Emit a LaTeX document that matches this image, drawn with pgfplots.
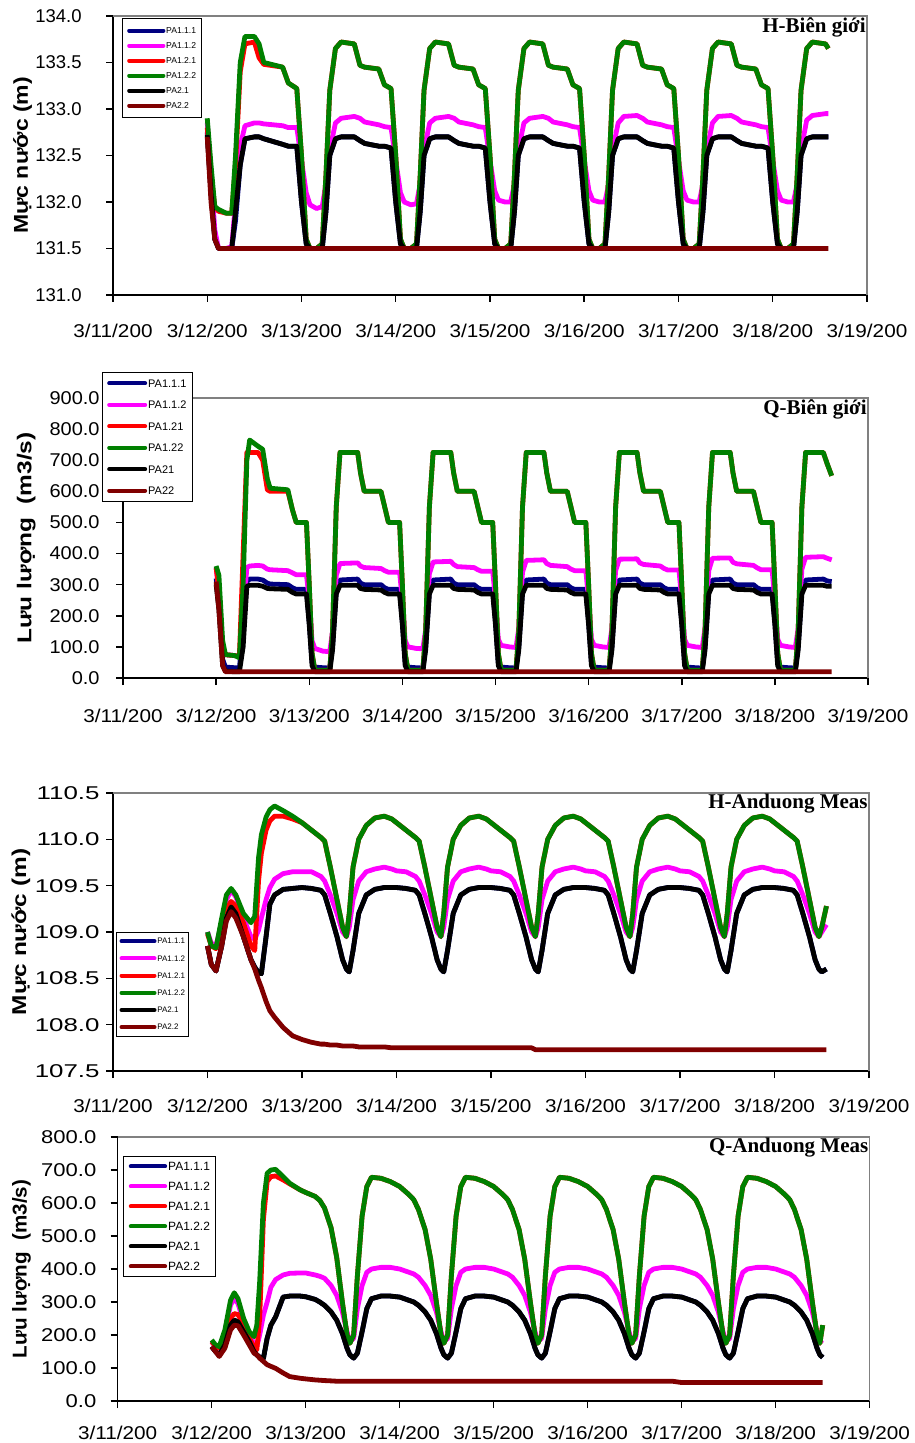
\documentclass[border=0pt]{standalone}
\usepackage{pgfplots}
\pgfplotsset{compat=1.18}
\usepackage{pgfplotstable}
\usepackage{fontspec}
\setmainfont{Liberation Sans}
\newfontfamily\titlefont{Liberation Serif}
\definecolor{cnavy}{RGB}{0,0,128}
\definecolor{cmag}{RGB}{255,0,255}
\definecolor{cred}{RGB}{255,0,0}
\definecolor{cgreen}{RGB}{0,128,0}
\definecolor{cdred}{RGB}{128,0,0}

\newcommand{\xl}[1]{\scalebox{1.12}[1]{#1}}

% columns: a=PA1.1.1 b=PA1.1.2 c=PA1.2.1 d=PA1.2.2 e=PA2.1 f=PA2.2
\pgfplotstableread{
x a b c d e f
1.00 132.75 132.85 132.80 132.90 132.72 132.70
1.04 132.10 132.30 132.30 132.40 132.10 132.00
1.08 131.60 131.70 131.95 131.95 131.60 131.60
1.12 131.50 131.50 131.90 131.92 131.50 131.50
1.20 131.50 131.50 131.88 131.88 131.50 131.50
1.26 131.50 131.52 131.88 131.88 131.50 131.50
1.30 131.80 132.00 132.40 132.50 131.90 131.50
1.35 132.40 132.60 133.40 133.50 132.40 131.50
1.40 132.68 132.82 133.70 133.78 132.68 131.50
1.50 132.70 132.85 133.72 133.78 132.70 131.50
1.55 132.70 132.85 133.55 133.70 132.70 131.50
1.60 132.68 132.84 133.48 133.50 132.68 131.50
1.80 132.62 132.82 133.45 133.45 132.62 131.50
1.86 132.60 132.80 133.28 133.28 132.60 131.50
1.95 132.60 132.80 133.22 133.22 132.60 131.50
2.00 132.00 132.45 132.50 132.50 132.00 131.50
2.05 131.55 132.10 131.60 131.60 131.55 131.50
2.09 131.50 131.97 131.50 131.50 131.50 131.50
2.16 131.50 131.93 131.50 131.50 131.50 131.50
2.22 131.50 131.95 131.55 131.55 131.50 131.50
2.26 131.90 132.20 132.30 132.30 131.90 131.50
2.30 132.50 132.55 133.20 133.20 132.50 131.50
2.36 132.68 132.85 133.65 133.65 132.68 131.50
2.42 132.70 132.90 133.72 133.72 132.70 131.50
2.56 132.70 132.92 133.70 133.70 132.70 131.50
2.62 132.66 132.90 133.47 133.47 132.66 131.50
2.67 132.63 132.86 133.45 133.45 132.63 131.50
2.82 132.60 132.83 133.43 133.43 132.60 131.50
2.88 132.60 132.81 133.26 133.26 132.60 131.50
2.95 132.58 132.80 133.22 133.22 132.58 131.50
3.00 132.00 132.45 132.50 132.50 132.00 131.50
3.05 131.55 132.10 131.60 131.60 131.55 131.50
3.09 131.50 132.00 131.50 131.50 131.50 131.50
3.16 131.50 131.97 131.50 131.50 131.50 131.50
3.22 131.50 131.98 131.55 131.55 131.50 131.50
3.26 131.90 132.20 132.30 132.30 131.90 131.50
3.30 132.50 132.55 133.20 133.20 132.50 131.50
3.36 132.68 132.85 133.65 133.65 132.68 131.50
3.42 132.70 132.90 133.72 133.72 132.70 131.50
3.56 132.70 132.92 133.70 133.70 132.70 131.50
3.62 132.66 132.90 133.47 133.47 132.66 131.50
3.67 132.63 132.86 133.45 133.45 132.63 131.50
3.82 132.60 132.83 133.43 133.43 132.60 131.50
3.88 132.60 132.81 133.26 133.26 132.60 131.50
3.95 132.58 132.80 133.22 133.22 132.58 131.50
4.00 132.00 132.45 132.50 132.50 132.00 131.50
4.05 131.55 132.12 131.60 131.60 131.55 131.50
4.09 131.50 132.02 131.50 131.50 131.50 131.50
4.16 131.50 132.00 131.50 131.50 131.50 131.50
4.22 131.50 132.00 131.55 131.55 131.50 131.50
4.26 131.90 132.20 132.30 132.30 131.90 131.50
4.30 132.50 132.55 133.20 133.20 132.50 131.50
4.36 132.68 132.85 133.65 133.65 132.68 131.50
4.42 132.70 132.90 133.72 133.72 132.70 131.50
4.56 132.70 132.92 133.70 133.70 132.70 131.50
4.62 132.66 132.90 133.47 133.47 132.66 131.50
4.67 132.63 132.86 133.45 133.45 132.63 131.50
4.82 132.60 132.83 133.43 133.43 132.60 131.50
4.88 132.60 132.81 133.26 133.26 132.60 131.50
4.95 132.58 132.80 133.22 133.22 132.58 131.50
5.00 132.00 132.45 132.50 132.50 132.00 131.50
5.05 131.55 132.12 131.60 131.60 131.55 131.50
5.09 131.50 132.02 131.50 131.50 131.50 131.50
5.16 131.50 132.00 131.50 131.50 131.50 131.50
5.22 131.50 132.00 131.55 131.55 131.50 131.50
5.26 131.90 132.20 132.30 132.30 131.90 131.50
5.30 132.50 132.55 133.20 133.20 132.50 131.50
5.36 132.68 132.85 133.65 133.65 132.68 131.50
5.42 132.70 132.92 133.72 133.72 132.70 131.50
5.56 132.70 132.93 133.70 133.70 132.70 131.50
5.62 132.66 132.90 133.47 133.47 132.66 131.50
5.67 132.63 132.86 133.45 133.45 132.63 131.50
5.82 132.60 132.83 133.43 133.43 132.60 131.50
5.88 132.60 132.81 133.26 133.26 132.60 131.50
5.95 132.58 132.80 133.22 133.22 132.58 131.50
6.00 132.00 132.45 132.50 132.50 132.00 131.50
6.05 131.55 132.12 131.60 131.60 131.55 131.50
6.09 131.50 132.02 131.50 131.50 131.50 131.50
6.16 131.50 132.00 131.50 131.50 131.50 131.50
6.22 131.50 132.00 131.55 131.55 131.50 131.50
6.26 131.90 132.20 132.30 132.30 131.90 131.50
6.30 132.50 132.55 133.20 133.20 132.50 131.50
6.36 132.68 132.85 133.65 133.65 132.68 131.50
6.42 132.70 132.92 133.72 133.72 132.70 131.50
6.56 132.70 132.93 133.70 133.70 132.70 131.50
6.62 132.66 132.90 133.47 133.47 132.66 131.50
6.67 132.63 132.86 133.45 133.45 132.63 131.50
6.82 132.60 132.83 133.43 133.43 132.60 131.50
6.88 132.60 132.81 133.26 133.26 132.60 131.50
6.95 132.58 132.80 133.22 133.22 132.58 131.50
7.00 132.00 132.45 132.50 132.50 132.00 131.50
7.05 131.55 132.12 131.60 131.60 131.55 131.50
7.09 131.50 132.02 131.50 131.50 131.50 131.50
7.16 131.50 132.00 131.50 131.50 131.50 131.50
7.22 131.50 132.00 131.55 131.55 131.50 131.50
7.26 131.90 132.20 132.30 132.30 131.90 131.50
7.30 132.50 132.55 133.20 133.20 132.50 131.50
7.36 132.68 132.88 133.65 133.65 132.68 131.50
7.42 132.70 132.93 133.72 133.72 132.70 131.50
7.56 132.70 132.95 133.70 133.70 132.70 131.50
7.59 132.70 132.95 133.65 133.65 132.70 131.50
}\tA

\pgfplotstableread{
x a b c d e f
1.00 320 355 355 360 300 310
1.03 250 280 280 330 220 220
1.07 60 90 80 120 40 40
1.10 35 75 75 75 22 20
1.20 33 72 72 72 20 20
1.25 33 70 70 65 20 20
1.29 150 200 400 300 100 20
1.33 310 355 725 700 295 20
1.36 318 360 725 765 298 20
1.45 318 362 725 745 298 20
1.50 315 360 700 735 295 20
1.55 305 350 605 640 288 20
1.58 302 348 600 610 287 20
1.77 300 345 600 605 285 20
1.82 290 338 540 540 275 20
1.86 285 332 500 500 270 20
1.97 285 332 500 500 270 20
2.00 180 250 300 300 170 20
2.03 50 120 80 80 40 20
2.06 35 95 25 25 20 20
2.15 33 86 25 25 20 20
2.22 32 85 25 25 20 20
2.25 100 150 150 150 90 20
2.29 280 330 550 550 270 20
2.33 315 368 725 725 298 20
2.52 318 370 725 725 298 20
2.55 305 360 660 660 288 20
2.59 300 355 600 600 285 20
2.77 300 352 600 600 283 20
2.81 290 345 550 550 275 20
2.85 285 340 500 500 270 20
2.97 285 340 500 500 270 20
3.00 180 250 300 300 170 20
3.03 50 120 80 80 40 20
3.06 35 100 25 25 20 20
3.15 33 95 25 25 20 20
3.22 32 94 25 25 20 20
3.25 100 155 150 150 90 20
3.29 280 335 550 550 270 20
3.33 315 373 725 725 298 20
3.52 318 375 725 725 298 20
3.55 305 365 660 660 288 20
3.59 300 358 600 600 285 20
3.77 300 355 600 600 283 20
3.81 290 348 550 550 275 20
3.85 285 343 500 500 270 20
3.97 285 343 500 500 270 20
4.00 180 250 300 300 170 20
4.03 50 125 80 80 40 20
4.06 35 105 25 25 20 20
4.15 33 100 25 25 20 20
4.22 32 98 25 25 20 20
4.25 100 160 150 150 90 20
4.29 280 340 550 550 270 20
4.33 315 378 725 725 298 20
4.52 318 380 725 725 298 20
4.55 305 368 660 660 288 20
4.59 300 362 600 600 285 20
4.77 300 358 600 600 283 20
4.81 290 350 550 550 275 20
4.85 285 345 500 500 270 20
4.97 285 345 500 500 270 20
5.00 180 250 300 300 170 20
5.03 50 125 80 80 40 20
5.06 35 105 25 25 20 20
5.15 33 100 25 25 20 20
5.22 32 98 25 25 20 20
5.25 100 160 150 150 90 20
5.29 280 345 550 550 270 20
5.33 315 382 725 725 298 20
5.52 318 383 725 725 298 20
5.55 305 370 660 660 288 20
5.59 300 365 600 600 285 20
5.77 300 360 600 600 283 20
5.81 290 352 550 550 275 20
5.85 285 347 500 500 270 20
5.97 285 347 500 500 270 20
6.00 180 250 300 300 170 20
6.03 50 125 80 80 40 20
6.06 35 105 25 25 20 20
6.15 33 100 25 25 20 20
6.22 32 98 25 25 20 20
6.25 100 160 150 150 90 20
6.29 280 345 550 550 270 20
6.33 315 385 725 725 298 20
6.52 318 386 725 725 298 20
6.55 305 372 660 660 288 20
6.59 300 367 600 600 285 20
6.77 300 362 600 600 283 20
6.81 290 354 550 550 275 20
6.85 285 348 500 500 270 20
6.97 285 348 500 500 270 20
7.00 180 250 300 300 170 20
7.03 50 125 80 80 40 20
7.06 35 105 25 25 20 20
7.15 33 100 25 25 20 20
7.22 32 98 25 25 20 20
7.25 100 160 150 150 90 20
7.29 280 350 550 550 270 20
7.33 315 388 725 725 298 20
7.52 318 390 725 725 298 20
7.56 312 385 690 690 295 20
7.61 310 380 650 650 295 20
}\tB

\pgfplotstableread{
x a b c d e f
1.00 108.85 109.00 108.98 109.00 108.85 108.85
1.04 108.65 108.88 108.85 108.85 108.65 108.65
1.09 108.58 108.85 108.82 108.83 108.58 108.58
1.15 108.85 109.10 109.05 109.15 108.85 108.85
1.20 109.15 109.35 109.25 109.40 109.15 109.12
1.25 109.27 109.45 109.33 109.47 109.27 109.22
1.30 109.20 109.38 109.28 109.40 109.20 109.15
1.38 108.95 109.15 109.10 109.20 108.95 108.95
1.46 108.70 108.95 108.85 109.10 108.70 108.70
1.50 108.62 108.92 108.80 109.17 108.62 108.60
1.54 108.56 109.02 109.55 109.80 108.56 108.48
1.57 108.55 109.15 109.85 110.05 108.55 108.40
1.62 108.95 109.35 110.10 110.24 108.95 108.25
1.66 109.30 109.48 110.20 110.32 109.30 108.15
1.71 109.40 109.57 110.25 110.36 109.40 108.08
1.80 109.46 109.63 110.25 110.31 109.46 107.97
1.90 109.47 109.65 110.22 110.25 109.47 107.88
2.00 109.48 109.65 110.18 110.18 109.48 107.84
2.10 109.47 109.65 110.10 110.10 109.47 107.81
2.20 109.45 109.60 110.02 110.02 109.45 107.79
2.24 109.40 109.55 109.98 109.98 109.40 107.79
2.30 109.20 109.40 109.70 109.70 109.20 107.78
2.37 108.95 109.20 109.35 109.35 108.95 107.78
2.43 108.70 109.00 109.05 109.05 108.70 107.77
2.47 108.60 108.95 108.95 108.95 108.60 107.77
2.50 108.57 109.05 109.20 109.20 108.57 107.77
2.54 108.80 109.35 109.70 109.70 108.80 107.77
2.60 109.20 109.55 110.00 110.00 109.20 107.76
2.68 109.40 109.65 110.15 110.15 109.40 107.76
2.77 109.46 109.68 110.23 110.23 109.46 107.76
2.87 109.48 109.70 110.25 110.25 109.48 107.76
2.95 109.48 109.68 110.22 110.22 109.48 107.75
3.00 109.48 109.66 110.18 110.18 109.48 107.75
3.10 109.47 109.65 110.10 110.10 109.47 107.75
3.20 109.45 109.60 110.02 110.02 109.45 107.75
3.24 109.40 109.55 109.98 109.98 109.40 107.75
3.30 109.20 109.40 109.70 109.70 109.20 107.75
3.37 108.95 109.20 109.35 109.35 108.95 107.75
3.43 108.70 109.00 109.05 109.05 108.70 107.75
3.47 108.60 108.95 108.95 108.95 108.60 107.75
3.50 108.57 109.05 109.20 109.20 108.57 107.75
3.54 108.80 109.35 109.70 109.70 108.80 107.75
3.60 109.20 109.55 110.00 110.00 109.20 107.75
3.68 109.40 109.65 110.15 110.15 109.40 107.75
3.77 109.46 109.68 110.23 110.23 109.46 107.75
3.87 109.48 109.70 110.25 110.25 109.48 107.75
3.95 109.48 109.68 110.22 110.22 109.48 107.75
4.00 109.48 109.66 110.18 110.18 109.48 107.75
4.10 109.47 109.65 110.10 110.10 109.47 107.75
4.20 109.45 109.60 110.02 110.02 109.45 107.75
4.24 109.40 109.55 109.98 109.98 109.40 107.75
4.30 109.20 109.40 109.70 109.70 109.20 107.75
4.37 108.95 109.20 109.35 109.35 108.95 107.75
4.43 108.70 109.00 109.05 109.05 108.70 107.75
4.47 108.60 108.95 108.95 108.95 108.60 107.73
4.50 108.57 109.05 109.20 109.20 108.57 107.73
4.54 108.80 109.35 109.70 109.70 108.80 107.73
4.60 109.20 109.55 110.00 110.00 109.20 107.73
4.68 109.40 109.65 110.15 110.15 109.40 107.73
4.77 109.46 109.68 110.23 110.23 109.46 107.73
4.87 109.48 109.70 110.25 110.25 109.48 107.73
4.95 109.48 109.68 110.22 110.22 109.48 107.73
5.00 109.48 109.66 110.18 110.18 109.48 107.73
5.10 109.47 109.65 110.10 110.10 109.47 107.73
5.20 109.45 109.60 110.02 110.02 109.45 107.73
5.24 109.40 109.55 109.98 109.98 109.40 107.73
5.30 109.20 109.40 109.70 109.70 109.20 107.73
5.37 108.95 109.20 109.35 109.35 108.95 107.73
5.43 108.70 109.00 109.05 109.05 108.70 107.73
5.47 108.60 108.95 108.95 108.95 108.60 107.73
5.50 108.57 109.05 109.20 109.20 108.57 107.73
5.54 108.80 109.35 109.70 109.70 108.80 107.73
5.60 109.20 109.55 110.00 110.00 109.20 107.73
5.68 109.40 109.65 110.15 110.15 109.40 107.73
5.77 109.46 109.68 110.23 110.23 109.46 107.73
5.87 109.48 109.70 110.25 110.25 109.48 107.73
5.95 109.48 109.68 110.22 110.22 109.48 107.73
6.00 109.48 109.66 110.18 110.18 109.48 107.73
6.10 109.47 109.65 110.10 110.10 109.47 107.73
6.20 109.45 109.60 110.02 110.02 109.45 107.73
6.24 109.40 109.55 109.98 109.98 109.40 107.73
6.30 109.20 109.40 109.70 109.70 109.20 107.73
6.37 108.95 109.20 109.35 109.35 108.95 107.73
6.43 108.70 109.00 109.05 109.05 108.70 107.73
6.47 108.60 108.95 108.95 108.95 108.60 107.73
6.50 108.57 109.05 109.20 109.20 108.57 107.73
6.54 108.80 109.35 109.70 109.70 108.80 107.73
6.60 109.20 109.55 110.00 110.00 109.20 107.73
6.68 109.40 109.65 110.15 110.15 109.40 107.73
6.77 109.46 109.68 110.23 110.23 109.46 107.73
6.87 109.48 109.70 110.25 110.25 109.48 107.73
6.95 109.48 109.68 110.22 110.22 109.48 107.73
7.00 109.48 109.66 110.18 110.18 109.48 107.73
7.10 109.47 109.65 110.10 110.10 109.47 107.73
7.20 109.45 109.60 110.02 110.02 109.45 107.73
7.24 109.40 109.55 109.98 109.98 109.40 107.73
7.30 109.20 109.40 109.70 109.70 109.20 107.73
7.37 108.95 109.20 109.35 109.35 108.95 107.73
7.43 108.70 109.00 109.05 109.05 108.70 107.73
7.47 108.60 108.95 108.95 108.95 108.60 107.73
7.50 108.57 109.00 109.05 109.05 108.57 107.73
7.55 108.60 109.08 109.28 109.28 108.60 107.73
}\tC

\pgfplotstableread{
x a b c d e f
1.00 165 180 180 185 165 165
1.04 150 165 165 170 150 150
1.08 140 160 160 165 140 135
1.14 170 210 190 215 170 160
1.20 230 290 250 305 230 215
1.24 245 312 265 328 245 230
1.28 240 295 262 310 240 228
1.34 210 240 230 250 210 200
1.40 180 200 190 210 180 170
1.45 150 175 165 195 150 145
1.48 140 165 155 230 140 140
1.51 133 200 250 360 133 130
1.55 129 260 550 600 129 120
1.59 190 300 665 690 190 110
1.63 230 345 680 700 230 105
1.68 255 368 682 702 255 99
1.76 315 382 670 680 315 85
1.83 318 387 658 660 318 74
1.94 318 388 640 640 318 69
2.00 316 388 632 632 316 67
2.10 308 382 620 620 308 64
2.15 300 378 608 608 300 63
2.20 290 372 585 585 290 62
2.27 270 350 525 525 270 61
2.33 245 320 435 435 245 60
2.39 205 270 300 300 205 60
2.44 160 210 200 200 160 60
2.47 140 180 175 175 140 60
2.51 130 190 200 200 130 60
2.55 145 280 380 380 145 60
2.60 210 350 560 560 210 60
2.65 280 390 650 650 280 60
2.70 310 400 678 678 310 60
2.80 318 405 675 675 318 60
2.90 318 405 665 665 318 60
3.00 315 400 650 650 315 60
3.10 305 390 625 625 305 60
3.15 300 385 610 610 300 60
3.20 290 375 580 580 290 60
3.27 270 350 520 520 270 60
3.33 245 320 430 430 245 60
3.39 205 270 300 300 205 60
3.44 160 210 200 200 160 60
3.47 140 180 175 175 140 60
3.51 130 190 200 200 130 60
3.55 145 280 380 380 145 60
3.60 210 350 560 560 210 60
3.65 280 390 650 650 280 60
3.70 310 400 678 678 310 60
3.80 318 405 675 675 318 60
3.90 318 405 665 665 318 60
4.00 315 400 650 650 315 60
4.10 305 390 625 625 305 60
4.15 300 385 610 610 300 60
4.20 290 375 580 580 290 60
4.27 270 350 520 520 270 60
4.33 245 320 430 430 245 60
4.39 205 270 300 300 205 60
4.44 160 210 200 200 160 60
4.47 140 180 175 175 140 60
4.51 130 190 200 200 130 60
4.55 145 280 380 380 145 60
4.60 210 350 560 560 210 60
4.65 280 390 650 650 280 60
4.70 310 400 678 678 310 60
4.80 318 405 675 675 318 60
4.90 318 405 665 665 318 60
5.00 315 400 650 650 315 60
5.10 305 390 625 625 305 60
5.15 300 385 610 610 300 60
5.20 290 375 580 580 290 60
5.27 270 350 520 520 270 60
5.33 245 320 430 430 245 60
5.39 205 270 300 300 205 60
5.44 160 210 200 200 160 60
5.47 140 180 175 175 140 60
5.51 130 190 200 200 130 60
5.55 145 280 380 380 145 60
5.60 210 350 560 560 210 60
5.65 280 390 650 650 280 60
5.70 310 400 678 678 310 60
5.80 318 405 675 675 318 60
5.90 318 405 665 665 318 60
6.00 315 400 650 650 315 56
6.10 305 390 625 625 305 56
6.15 300 385 610 610 300 56
6.20 290 375 580 580 290 56
6.27 270 350 520 520 270 56
6.33 245 320 430 430 245 56
6.39 205 270 300 300 205 56
6.44 160 210 200 200 160 56
6.47 140 180 175 175 140 56
6.51 130 190 200 200 130 56
6.55 145 280 380 380 145 56
6.60 210 350 560 560 210 56
6.65 280 390 650 650 280 56
6.70 310 400 678 678 310 56
6.80 318 405 675 675 318 56
6.90 318 405 665 665 318 56
7.00 315 400 650 650 315 56
7.10 305 390 625 625 305 56
7.15 300 385 610 610 300 56
7.20 290 375 580 580 290 56
7.27 270 350 520 520 270 56
7.33 245 320 430 430 245 56
7.39 205 270 300 300 205 56
7.44 160 210 200 200 160 56
7.47 140 180 175 175 140 56
7.50 132 185 230 230 132 56
}\tD

\pgfplotsset{
  panel/.style={
    scale only axis,
    axis lines*=left,
    axis line style={-, black, line width=0.75pt},
    xmin=0, xmax=8,
    xtick={0,1,...,8},
    xticklabels={\xl{3/11/200},\xl{3/12/200},\xl{3/13/200},\xl{3/14/200},\xl{3/15/200},\xl{3/16/200},\xl{3/17/200},\xl{3/18/200},\xl{3/19/200}},
    tick align=outside,
    major tick length=3.5pt,
    tick style={black, line width=0.75pt},
    xticklabel style={font=\fontsize{9.25}{10}\selectfont, anchor=north, inner sep=0pt},
    yticklabel style={font=\fontsize{9.25}{10}\selectfont, anchor=east, inner sep=0pt},
    ylabel style={font=\bfseries\fontsize{10}{11}\selectfont, anchor=center, inner sep=0pt},
    no markers,
    every axis plot/.append style={line width=2.4pt, line join=round},
    clip=false,
    legend cell align=left,
    legend style={draw=black, line width=0.5pt, fill=white, anchor=north west},
  },
}

\begin{document}
\begin{tikzpicture}
\path[use as bounding box] (0pt,0pt) rectangle (457pt,-721.5pt);

% ---------- H-Bien gioi
\begin{axis}[panel,
  at={(56.5pt,-147.5pt)}, anchor=south west,
  width=377pt, height=139.5pt,
  ymin=131, ymax=134, ytick={131,131.5,...,134},
  yticklabel={\scalebox{1.0}[1]{\pgfmathprintnumber[fixed,fixed zerofill,precision=1,assume math mode=true]{\tick}}},
  yticklabel style={xshift=-12pt},
  xticklabel style={yshift=-10.7pt},
  ylabel={\scalebox{1.15}[1]{Mực nước (m)}},
  ylabel style={at={(axis description cs:-0.120,0.5)}},
  legend style={at={(0.0115,0.9918)}, font=\fontsize{4.3}{4.3}\selectfont,
    inner xsep=2.5pt, inner ysep=4.2pt, row sep=4.1pt,
    nodes={inner sep=0.4pt, text height=2.6pt, text depth=0pt}},
  legend image code/.code={\draw[#1, line width=2pt, line cap=round] (1pt,0pt) -- (18.1pt,0pt);},
]
\addplot[cnavy] table[x=x,y=a] {\tA};
\addplot[cmag] table[x=x,y=b] {\tA};
\addplot[cred] table[x=x,y=c] {\tA};
\addplot[cgreen] table[x=x,y=d] {\tA};
\addplot[black] table[x=x,y=e] {\tA};
\addplot[cdred] table[x=x,y=f] {\tA};
\legend{PA1.1.1,PA1.1.2,PA1.2.1,PA1.2.2,PA2.1,PA2.2}
\draw[gray, line width=0.8pt] (rel axis cs:0,1) -- (rel axis cs:1,1) -- (rel axis cs:1,0);
\node[anchor=north east, inner sep=0.5pt, font=\titlefont\bfseries\fontsize{10.5}{11}\selectfont] at (rel axis cs:1,1) {H-Biên giới};
\end{axis}

% ---------- Q-Bien gioi
\begin{axis}[panel,
  at={(61.5pt,-339pt)}, anchor=south west,
  width=372.5pt, height=140pt,
  ymin=0, ymax=900, ytick={0,100,...,900},
  yticklabel={\scalebox{1.08}[1]{\pgfmathprintnumber[fixed,fixed zerofill,precision=1,assume math mode=true]{\tick}}},
  yticklabel style={xshift=-8pt},
  xticklabel style={yshift=-11.7pt},
  ylabel={\scalebox{1.22}[1]{Lưu lượng~~(m3/s)}},
  ylabel style={at={(axis description cs:-0.130,0.5)}},
  legend style={at={(-0.0286,1.094)}, font=\fontsize{5.5}{5.5}\selectfont,
    inner xsep=2.5pt, inner ysep=3.1pt, row sep=5.73pt,
    nodes={inner sep=0.5pt, text height=4pt, text depth=0pt}},
  legend image code/.code={\draw[#1, line width=2pt, line cap=round] (1pt,0pt) -- (19pt,0pt);},
]
\addplot[cnavy] table[x=x,y=a] {\tB};
\addplot[cmag] table[x=x,y=b] {\tB};
\addplot[cred] table[x=x,y=c] {\tB};
\addplot[cgreen] table[x=x,y=d] {\tB};
\addplot[black] table[x=x,y=e] {\tB};
\addplot[cdred] table[x=x,y=f] {\tB};
\legend{PA1.1.1,PA1.1.2,PA1.21,PA1.22,PA21,PA22}
\draw[gray, line width=0.8pt] (rel axis cs:0,1) -- (rel axis cs:1,1) -- (rel axis cs:1,0);
\node[anchor=north east, inner sep=0.5pt, font=\titlefont\bfseries\fontsize{10.5}{11}\selectfont] at (rel axis cs:1,1) {Q-Biên giới};
\end{axis}

% ---------- H-Anduong Meas
\begin{axis}[panel,
  at={(56.5pt,-535.5pt)}, anchor=south west,
  width=378pt, height=139pt,
  ymin=107.5, ymax=110.5, ytick={107.5,108,...,110.5},
  yticklabel={\scalebox{1.4}[1]{\pgfmathprintnumber[fixed,fixed zerofill,precision=1,assume math mode=true]{\tick}}},
  yticklabel style={xshift=-3pt},
  xticklabel style={yshift=-10.2pt},
  ylabel={\scalebox{1.22}[1]{Mực nước (m)}},
  ylabel style={at={(axis description cs:-0.122,0.5)}},
  legend style={at={(0.004,0.501)}, font=\fontsize{4}{4}\selectfont,
    inner xsep=1.5pt, inner ysep=2.8pt, row sep=5.2pt,
    nodes={inner sep=0.4pt, text height=2.6pt, text depth=0pt}},
  legend image code/.code={\draw[#1, line width=2pt, line cap=round] (1pt,0pt) -- (17.5pt,0pt);},
]
\addplot[cnavy] table[x=x,y=a] {\tC};
\addplot[cmag] table[x=x,y=b] {\tC};
\addplot[cred] table[x=x,y=c] {\tC};
\addplot[cgreen] table[x=x,y=d] {\tC};
\addplot[black] table[x=x,y=e] {\tC};
\addplot[cdred] table[x=x,y=f] {\tC};
\legend{PA1.1.1,PA1.1.2,PA1.2.1,PA1.2.2,PA2.1,PA2.2}
\draw[gray, line width=0.8pt] (rel axis cs:0,1) -- (rel axis cs:1,1) -- (rel axis cs:1,0);
\node[anchor=north east, inner sep=0.5pt, font=\titlefont\bfseries\fontsize{10.5}{11}\selectfont] at (rel axis cs:1,1) {H-Anduong Meas};
\end{axis}

% ---------- Q-Anduong Meas
\begin{axis}[panel,
  at={(58.85pt,-700.5pt)}, anchor=south west,
  width=376pt, height=132pt,
  ymin=0, ymax=800, ytick={0,100,...,800},
  yticklabel={\scalebox{1.19}[1]{\pgfmathprintnumber[fixed,fixed zerofill,precision=1,assume math mode=true]{\tick}}},
  yticklabel style={xshift=-7pt},
  xticklabel style={yshift=-8.7pt},
  ylabel={\scalebox{1.03}[1]{Lưu lượng~~(m3/s)}},
  ylabel style={at={(axis description cs:-0.128,0.5)}},
  legend style={at={(0.0074,0.928)}, font=\fontsize{6}{6}\selectfont,
    inner xsep=2.5pt, inner ysep=2.4pt, row sep=5pt,
    nodes={inner sep=0.5pt, text height=4pt, text depth=0pt}},
  legend image code/.code={\draw[#1, line width=2pt, line cap=round] (1pt,0pt) -- (18.2pt,0pt);},
]
\addplot[cnavy] table[x=x,y=a] {\tD};
\addplot[cmag] table[x=x,y=b] {\tD};
\addplot[cred] table[x=x,y=c] {\tD};
\addplot[cgreen] table[x=x,y=d] {\tD};
\addplot[black] table[x=x,y=e] {\tD};
\addplot[cdred] table[x=x,y=f] {\tD};
\legend{PA1.1.1,PA1.1.2,PA1.2.1,PA1.2.2,PA2.1,PA2.2}
\draw[gray, line width=0.8pt] (rel axis cs:0,1) -- (rel axis cs:1,1) -- (rel axis cs:1,0);
\node[anchor=north east, inner sep=0.5pt, font=\titlefont\bfseries\fontsize{10.5}{11}\selectfont] at (rel axis cs:1,1) {Q-Anduong Meas};
\end{axis}
\end{tikzpicture}
\end{document}
